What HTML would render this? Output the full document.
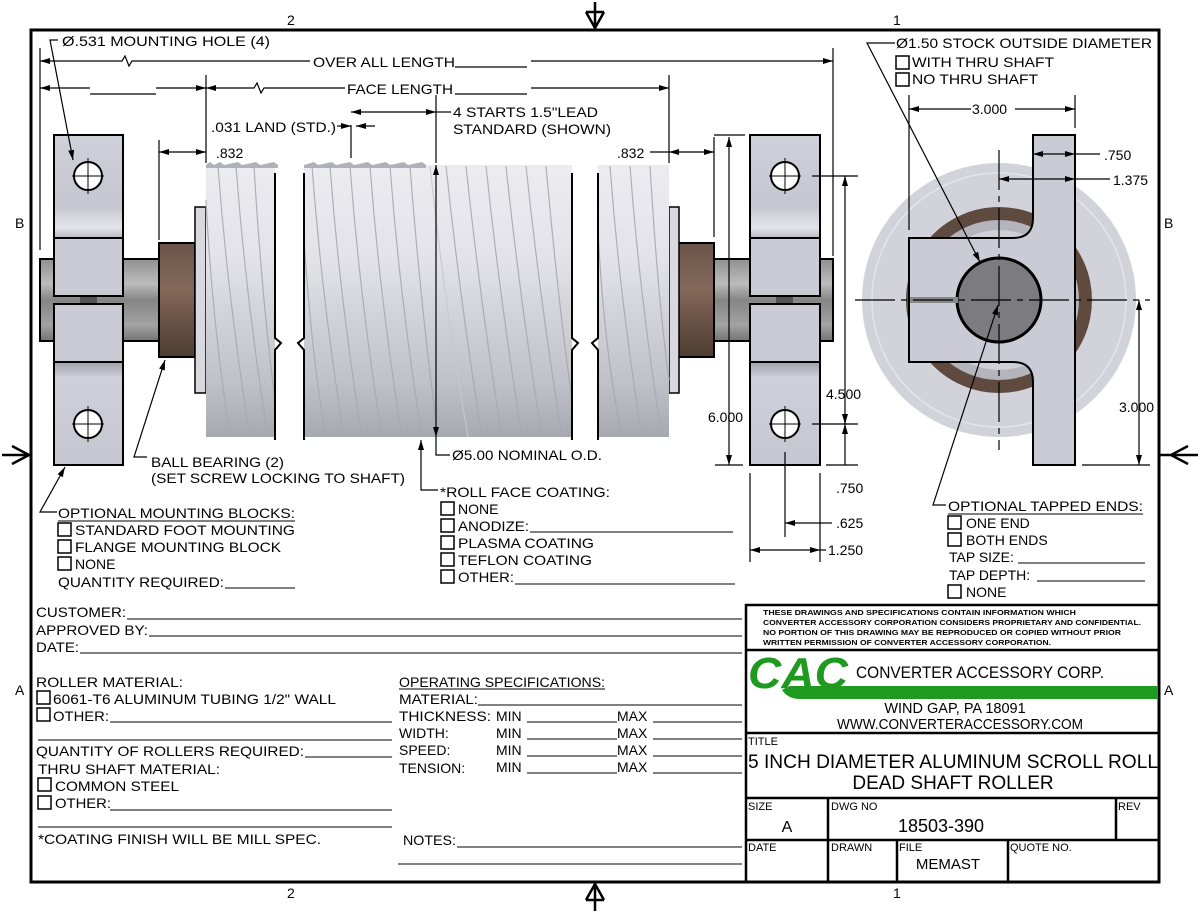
<!DOCTYPE html>
<html><head><meta charset="utf-8"><style>
html,body{margin:0;padding:0;background:#fff}
svg{display:block}
text{font-family:"Liberation Sans",sans-serif;fill:#000}
</style></head><body>
<svg width="1200" height="913" viewBox="0 0 1200 913" xmlns="http://www.w3.org/2000/svg">
<defs>
<linearGradient id="roll" x1="0" y1="0" x2="0" y2="1">
<stop offset="0" stop-color="#ececf0"/><stop offset="0.35" stop-color="#e2e2e8"/><stop offset="0.5" stop-color="#d6d6dd"/><stop offset="0.8" stop-color="#c0c0c8"/><stop offset="1" stop-color="#a8a8b0"/></linearGradient>
<linearGradient id="shaft" x1="0" y1="0" x2="0" y2="1">
<stop offset="0" stop-color="#909090"/><stop offset="0.3" stop-color="#bcbcbc"/><stop offset="0.5" stop-color="#858585"/><stop offset="0.8" stop-color="#a2a2a2"/><stop offset="1" stop-color="#747474"/></linearGradient>
<linearGradient id="brg" x1="0" y1="0" x2="0" y2="1">
<stop offset="0" stop-color="#6a5448"/><stop offset="0.4" stop-color="#84685a"/><stop offset="1" stop-color="#4e3c32"/></linearGradient>
<linearGradient id="blk" x1="0" y1="0" x2="0" y2="1">
<stop offset="0" stop-color="#d0d0da"/><stop offset="0.7" stop-color="#c6c6d0"/><stop offset="0.9" stop-color="#e4e4ea"/><stop offset="1" stop-color="#b8b8c2"/></linearGradient>
<linearGradient id="blk2" x1="0" y1="0" x2="0" y2="1">
<stop offset="0" stop-color="#a0a0aa"/><stop offset="0.15" stop-color="#d0d0da"/><stop offset="1" stop-color="#c6c6d0"/></linearGradient>
<marker id="a" viewBox="0 0 10 6" refX="10" refY="3" markerWidth="10" markerHeight="6" orient="auto-start-reverse" markerUnits="userSpaceOnUse"><path d="M0,0L10,3L0,6z" fill="#000"/></marker>
</defs>

<rect x="31" y="30" width="1128" height="852" fill="none" stroke="#000" stroke-width="3"/>
<text x="287" y="25" font-size="14">2</text><text x="893" y="25" font-size="14">1</text>
<text x="287" y="898" font-size="14">2</text><text x="893" y="898" font-size="14">1</text>
<text x="15" y="228" font-size="14">B</text><text x="1164" y="228" font-size="14">B</text>
<text x="15" y="695" font-size="14">A</text><text x="1164" y="695" font-size="14">A</text>
<g stroke="#000" stroke-width="2.5" fill="none">
<path d="M595,2V30M586,12L595,28L604,12M586,12H604"/>
<path d="M595,911V882M586,900L595,884L604,900M586,900H604"/>
<path d="M2,455H31M12,446L29,455L12,464"/>
<path d="M1198,455H1160M1188,446L1171,455L1188,464"/>
</g>

<rect x="40" y="259" width="120" height="82" fill="url(#shaft)" stroke="#000" stroke-width="2"/>
<rect x="713" y="259" width="120" height="82" fill="url(#shaft)" stroke="#000" stroke-width="2"/>
<rect x="159" y="243" width="36" height="114" fill="url(#brg)" stroke="#000" stroke-width="2"/>
<rect x="678" y="243" width="36" height="114" fill="url(#brg)" stroke="#000" stroke-width="2"/>
<rect x="195" y="207" width="11" height="186" fill="#d8d8de" stroke="#000" stroke-width="1.5"/>
<rect x="669" y="207" width="10" height="186" fill="#d8d8de" stroke="#000" stroke-width="1.5"/>
<path d="M206,165H275V437H206Z" fill="url(#roll)"/>
<path d="M304,165H572V437H304Z" fill="url(#roll)"/>
<path d="M598,165H669V437H598Z" fill="url(#roll)"/>
<g stroke="#a8a8b2" stroke-width="1.2" fill="none" opacity="0.9">
<path d="M218,166Q228,300 250,437M236,166Q246,300 268,437M254,166Q262,300 275,400M206,200Q212,320 230,437"/>
<path d="M312,166Q322,300 344,437M330,166Q340,300 362,437M350,166Q360,300 382,437M370,166Q380,300 402,437M390,166Q400,300 422,437M410,166Q420,300 438,437M304,240Q312,360 326,437"/>
<path d="M430,166Q444,300 468,437" stroke="#c8c8d0"/>
<path d="M446,166Q460,300 482,437M466,166Q480,300 502,437M486,166Q500,300 522,437M506,166Q520,300 542,437M526,166Q540,300 562,437M546,166Q558,300 572,400"/>
<path d="M610,166Q620,300 642,437M630,166Q640,300 662,437M650,166Q658,300 669,380M598,230Q604,350 622,437"/>
</g>
<g fill="#b0b0ba"><path d="M206,165l4,-3 4,3 6,-3 4,3 14,-3 4,3 14,-3 4,3 14,-3 4,3V168H206Z"/>
<path d="M304,165l10,-3 4,3 14,-3 4,3 14,-3 4,3 14,-3 4,3 14,-3 4,3 14,-3 4,3 14,-3 4,3V168H304Z"/></g>
<g stroke="#000" stroke-width="2" fill="none">
<path d="M275,173V338l6,5 -6,7V440"/>
<path d="M304,173V338l-6,5 6,7V440"/>
<path d="M572,173V338l6,5 -6,7V440"/>
<path d="M598,173V338l-6,5 6,7V440"/>
</g>
<g stroke="#000" stroke-width="2">
<rect x="54" y="135" width="69" height="103" fill="url(#blk)"/>
<rect x="54" y="238" width="69" height="58" fill="#cbcbd5"/>
<rect x="54" y="304" width="69" height="58" fill="#cbcbd5"/>
<rect x="54" y="362" width="69" height="103" fill="url(#blk2)"/>
<rect x="750" y="135" width="70" height="103" fill="url(#blk)"/>
<rect x="750" y="238" width="70" height="58" fill="#cbcbd5"/>
<rect x="750" y="304" width="70" height="58" fill="#cbcbd5"/>
<rect x="750" y="362" width="70" height="103" fill="url(#blk2)"/>
</g>
<rect x="80" y="297" width="17" height="6" fill="#555"/><rect x="776" y="297" width="17" height="6" fill="#555"/>
<g stroke="#000" stroke-width="2" fill="#fff">
<circle cx="88" cy="176" r="14"/><circle cx="88" cy="424" r="14"/>
<circle cx="785" cy="176" r="14"/><circle cx="785" cy="424" r="14"/>
</g>
<g stroke="#000" stroke-width="1">
<path d="M88,158V194M72,176H104M88,406V442M72,424H104M785,158V194M769,176H801M785,406V442M769,424H801"/>
</g>

<g stroke="#000" stroke-width="1.2" fill="none">
<path d="M40,48V250M833,48V256M206,75V163M669,75V163M159,140V240M714,137V237M351,125V158M436,95V163"/>
<path d="M40,61H122l3,-5 4,10 3,-5H310" marker-start="url(#a)"/>
<path d="M531,61H833" marker-end="url(#a)"/>
<path d="M40,88H90" marker-start="url(#a)"/><path d="M156,88H206" marker-end="url(#a)"/>
<path d="M206,88H254l3,-5 4,10 3,-5H345" marker-start="url(#a)"/>
<path d="M531,88H669" marker-end="url(#a)"/>
<path d="M351,112H436" marker-start="url(#a)" marker-end="url(#a)"/><path d="M436,112H451"/>
<path d="M337,126H351" marker-end="url(#a)"/><path d="M375,126H356" marker-end="url(#a)"/>
<path d="M159,152H206" marker-start="url(#a)" marker-end="url(#a)"/>
<path d="M669,152H714" marker-start="url(#a)" marker-end="url(#a)"/><path d="M650,152H669"/>
<path d="M436,165V437" marker-start="url(#a)" marker-end="url(#a)"/><path d="M436,437V455H450"/>
<path d="M58,40H50L73,160" marker-end="url(#a)"/>
<path d="M147,457H134L165,360" marker-end="url(#a)"/>
<path d="M438,490H421V440" marker-end="url(#a)"/>
<path d="M57,512H40L65,467" marker-end="url(#a)"/>
<path d="M714,135H745M715,465H743M812,176H858M812,424H858M826,465H858"/>
<path d="M729,137V465" marker-start="url(#a)" marker-end="url(#a)"/>
<path d="M845,176V424" marker-start="url(#a)" marker-end="url(#a)"/>
<path d="M845,465V424" marker-end="url(#a)"/><path d="M845,424V415"/>
<path d="M750,473V562M820,473V562M785,452V537"/>
<path d="M820,523H785" marker-end="url(#a)"/><path d="M820,523H832"/>
<path d="M750,550H820" marker-start="url(#a)" marker-end="url(#a)"/><path d="M820,550H826"/>
</g>
<g font-size="14">
<text x="62" y="46" textLength="208" lengthAdjust="spacingAndGlyphs">Ø.531 MOUNTING HOLE (4)</text>
<text x="313" y="67" textLength="142" lengthAdjust="spacingAndGlyphs">OVER ALL LENGTH</text>
<path d="M455,67H527M455,94H527M90,94H156" stroke="#000" stroke-width="1.2"/>
<text x="347" y="94" textLength="106" lengthAdjust="spacingAndGlyphs">FACE LENGTH</text>
<text x="453" y="117" textLength="145" lengthAdjust="spacingAndGlyphs">4 STARTS 1.5"LEAD</text>
<text x="453" y="134" textLength="158" lengthAdjust="spacingAndGlyphs">STANDARD (SHOWN)</text>
<text x="211" y="132" textLength="125" lengthAdjust="spacingAndGlyphs">.031 LAND (STD.)</text>
<text x="216" y="158">.832</text>
<text x="617" y="158">.832</text>
<text x="452" y="460" textLength="150" lengthAdjust="spacingAndGlyphs">Ø5.00 NOMINAL O.D.</text>
<text x="151" y="467" textLength="133" lengthAdjust="spacingAndGlyphs">BALL BEARING (2)</text>
<text x="151" y="483" textLength="254" lengthAdjust="spacingAndGlyphs">(SET SCREW LOCKING TO SHAFT)</text>
<text x="708" y="422">6.000</text>
<text x="826" y="399">4.500</text>
<text x="836" y="493">.750</text>
<text x="836" y="528">.625</text>
<text x="828" y="555">1.250</text>
</g>

<circle cx="999" cy="300" r="137" fill="#d2d2da"/>
<circle cx="999" cy="300" r="127" fill="none" stroke="#e4e4ea" stroke-width="1.5"/>
<circle cx="999" cy="300" r="93" fill="#5e4a3e"/>
<circle cx="999" cy="300" r="80" fill="#b4b4bc"/>
<circle cx="999" cy="300" r="70" fill="#cfcfd7"/>
<path d="M1033,135H1075V465H1033V382Q1033,362 1013,362H909V238H1013Q1033,238 1033,218Z" fill="#cbcbd5" stroke="#000" stroke-width="2"/>
<circle cx="999" cy="300" r="42" fill="#7c7c80" stroke="#000" stroke-width="3"/>
<rect x="910" y="297" width="48" height="6" fill="#888"/>
<g stroke="#000" stroke-width="1.2" fill="none">
<path d="M855,300H1150M999,150V450" stroke-dasharray="40,6,6,6"/>
<path d="M909,95V230M1075,95V128"/>
<path d="M909,109H971" marker-start="url(#a)"/><path d="M1015,109H1075" marker-end="url(#a)"/>
<path d="M1033,154H1075" marker-start="url(#a)" marker-end="url(#a)"/><path d="M1075,154H1100"/>
<path d="M999,179H1075" marker-start="url(#a)" marker-end="url(#a)"/><path d="M1075,179H1110"/>
<path d="M1082,465H1150"/>
<path d="M1139,300V465" marker-start="url(#a)" marker-end="url(#a)"/>
<path d="M895,43H867L980,262" marker-end="url(#a)"/>
<path d="M946,505H933L998,305" marker-end="url(#a)"/>
</g>
<g font-size="14">
<text x="896" y="48" textLength="256" lengthAdjust="spacingAndGlyphs">Ø1.50 STOCK OUTSIDE DIAMETER</text>
<rect x="896" y="56" width="13" height="13" fill="none" stroke="#000" stroke-width="1.5"/>
<text x="912" y="67" textLength="142" lengthAdjust="spacingAndGlyphs">WITH THRU SHAFT</text>
<rect x="896" y="73" width="13" height="13" fill="none" stroke="#000" stroke-width="1.5"/>
<text x="912" y="84" textLength="126" lengthAdjust="spacingAndGlyphs">NO THRU SHAFT</text>
<text x="972" y="114">3.000</text>
<text x="1104" y="160">.750</text>
<text x="1113" y="185">1.375</text>
<text x="1119" y="412">3.000</text>
<text x="948" y="511" textLength="195" lengthAdjust="spacingAndGlyphs">OPTIONAL TAPPED ENDS:</text>
<path d="M948,514H1143" stroke="#000" stroke-width="1"/>
<rect x="948" y="516" width="13" height="13" fill="none" stroke="#000" stroke-width="1.5"/>
<text x="966" y="528">ONE END</text>
<rect x="948" y="533" width="13" height="13" fill="none" stroke="#000" stroke-width="1.5"/>
<text x="966" y="545">BOTH ENDS</text>
<text x="949" y="562">TAP SIZE:</text><path d="M1018,563H1145" stroke="#000"/>
<text x="949" y="580">TAP DEPTH:</text><path d="M1037,581H1145" stroke="#000"/>
<rect x="948" y="585" width="13" height="13" fill="none" stroke="#000" stroke-width="1.5"/>
<text x="966" y="597">NONE</text>
</g>

<g font-size="14">
<text x="58" y="518" textLength="237" lengthAdjust="spacingAndGlyphs">OPTIONAL MOUNTING BLOCKS:</text>
<path d="M58,521H295" stroke="#000"/>
<rect x="58" y="523" width="13" height="13" fill="none" stroke="#000" stroke-width="1.5"/>
<text x="75" y="535" textLength="220" lengthAdjust="spacingAndGlyphs">STANDARD FOOT MOUNTING</text>
<rect x="58" y="540" width="13" height="13" fill="none" stroke="#000" stroke-width="1.5"/>
<text x="75" y="552" textLength="206" lengthAdjust="spacingAndGlyphs">FLANGE MOUNTING BLOCK</text>
<rect x="58" y="557" width="13" height="13" fill="none" stroke="#000" stroke-width="1.5"/>
<text x="75" y="569">NONE</text>
<text x="58" y="587" textLength="166" lengthAdjust="spacingAndGlyphs">QUANTITY REQUIRED:</text>
<path d="M225,588H295" stroke="#000"/>

<text x="440" y="497" textLength="170" lengthAdjust="spacingAndGlyphs">*ROLL FACE COATING:</text>
<rect x="441" y="502" width="13" height="13" fill="none" stroke="#000" stroke-width="1.5"/>
<text x="458" y="514">NONE</text>
<rect x="441" y="519" width="13" height="13" fill="none" stroke="#000" stroke-width="1.5"/>
<text x="458" y="531" textLength="71" lengthAdjust="spacingAndGlyphs">ANODIZE:</text><path d="M530,532H733" stroke="#000"/>
<rect x="441" y="536" width="13" height="13" fill="none" stroke="#000" stroke-width="1.5"/>
<text x="458" y="548" textLength="136" lengthAdjust="spacingAndGlyphs">PLASMA COATING</text>
<rect x="441" y="553" width="13" height="13" fill="none" stroke="#000" stroke-width="1.5"/>
<text x="458" y="565" textLength="134" lengthAdjust="spacingAndGlyphs">TEFLON COATING</text>
<rect x="441" y="570" width="13" height="13" fill="none" stroke="#000" stroke-width="1.5"/>
<text x="458" y="582" textLength="56" lengthAdjust="spacingAndGlyphs">OTHER:</text><path d="M515,584H735" stroke="#000"/>

<text x="36" y="617" textLength="90" lengthAdjust="spacingAndGlyphs">CUSTOMER:</text><path d="M127,619H742" stroke="#000"/>
<text x="36" y="635" textLength="112" lengthAdjust="spacingAndGlyphs">APPROVED BY:</text><path d="M149,636H742" stroke="#000"/>
<text x="36" y="652" textLength="43" lengthAdjust="spacingAndGlyphs">DATE:</text><path d="M80,653H742" stroke="#000"/>

<text x="36" y="687" textLength="147" lengthAdjust="spacingAndGlyphs">ROLLER MATERIAL:</text>
<rect x="37" y="691" width="13" height="13" fill="none" stroke="#000" stroke-width="1.5"/>
<text x="53" y="704" textLength="283" lengthAdjust="spacingAndGlyphs">6061-T6 ALUMINUM TUBING 1/2" WALL</text>
<rect x="37" y="708" width="13" height="13" fill="none" stroke="#000" stroke-width="1.5"/>
<text x="53" y="721" textLength="56" lengthAdjust="spacingAndGlyphs">OTHER:</text><path d="M110,722H392" stroke="#000"/>
<path d="M38,740H392" stroke="#000"/>
<text x="36" y="756" textLength="268" lengthAdjust="spacingAndGlyphs">QUANTITY OF ROLLERS REQUIRED:</text><path d="M305,757H392" stroke="#000"/>
<text x="38" y="774" textLength="182" lengthAdjust="spacingAndGlyphs">THRU SHAFT MATERIAL:</text>
<rect x="38" y="778" width="13" height="13" fill="none" stroke="#000" stroke-width="1.5"/>
<text x="55" y="791" textLength="124" lengthAdjust="spacingAndGlyphs">COMMON STEEL</text>
<rect x="38" y="796" width="13" height="13" fill="none" stroke="#000" stroke-width="1.5"/>
<text x="55" y="808" textLength="56" lengthAdjust="spacingAndGlyphs">OTHER:</text><path d="M110,810H392" stroke="#000"/>
<path d="M38,827H392" stroke="#000"/>
<text x="38" y="844" textLength="283" lengthAdjust="spacingAndGlyphs">*COATING FINISH WILL BE MILL SPEC.</text>

<text x="399" y="687" textLength="206" lengthAdjust="spacingAndGlyphs">OPERATING SPECIFICATIONS:</text><path d="M399,689H605" stroke="#000"/>
<text x="399" y="704" textLength="79" lengthAdjust="spacingAndGlyphs">MATERIAL:</text><path d="M478,705H742" stroke="#000"/>
<text x="399" y="721" textLength="92" lengthAdjust="spacingAndGlyphs">THICKNESS:</text>
<text x="399" y="738">WIDTH:</text><text x="399" y="755">SPEED:</text><text x="399" y="773">TENSION:</text>
<text x="496" y="721">MIN</text><text x="496" y="738">MIN</text><text x="496" y="755">MIN</text><text x="496" y="772">MIN</text>
<text x="617" y="721">MAX</text><text x="617" y="738">MAX</text><text x="617" y="755">MAX</text><text x="617" y="772">MAX</text>
<path d="M527,722H617M653,722H742M527,739H617M653,739H742M527,756H617M653,756H742M527,773H617M653,773H742" stroke="#000"/>
<text x="403" y="845" textLength="53" lengthAdjust="spacingAndGlyphs">NOTES:</text><path d="M457,847H742M398,864H742" stroke="#000"/>
</g>

<g stroke="#000" stroke-width="2.5" fill="none">
<rect x="746" y="605" width="413" height="277"/>
<path d="M746,650H1159M746,733H1159M746,798H1159M746,840H1159M828,798V882M1116,798V840M897,840V882M1008,840V882"/>
</g>
<g font-size="7.6" font-weight="bold">
<text x="763" y="615" textLength="313" lengthAdjust="spacingAndGlyphs">THESE DRAWINGS AND SPECIFICATIONS CONTAIN INFORMATION WHICH</text>
<text x="763" y="625" textLength="378" lengthAdjust="spacingAndGlyphs">CONVERTER ACCESSORY CORPORATION CONSIDERS PROPRIETARY AND CONFIDENTIAL.</text>
<text x="763" y="635" textLength="358" lengthAdjust="spacingAndGlyphs">NO PORTION OF THIS DRAWING MAY BE REPRODUCED OR COPIED WITHOUT PRIOR</text>
<text x="763" y="645" textLength="288" lengthAdjust="spacingAndGlyphs">WRITTEN PERMISSION OF CONVERTER ACCESSORY CORPORATION.</text>
</g>
<text x="748" y="688" font-size="44" font-weight="bold" font-style="italic" style="fill:#1e9a1e" textLength="100" lengthAdjust="spacingAndGlyphs">CAC</text>
<path d="M790,686H1158V699H800Q788,699 782,690Z" fill="#1e9a1e"/>
<text x="856" y="678" font-size="17" textLength="248" lengthAdjust="spacingAndGlyphs">CONVERTER ACCESSORY CORP.</text>
<text x="955" y="713" font-size="14.5" text-anchor="middle">WIND GAP, PA 18091</text>
<text x="960" y="729" font-size="14.5" text-anchor="middle" textLength="246" lengthAdjust="spacingAndGlyphs">WWW.CONVERTERACCESSORY.COM</text>
<text x="748" y="745" font-size="11">TITLE</text>
<text x="748" y="768" font-size="19" textLength="410" lengthAdjust="spacingAndGlyphs">5 INCH DIAMETER ALUMINUM SCROLL ROLL</text>
<text x="953" y="789" font-size="19" text-anchor="middle">DEAD SHAFT ROLLER</text>
<text x="748" y="810" font-size="11">SIZE</text>
<text x="787" y="832" font-size="16" text-anchor="middle">A</text>
<text x="831" y="810" font-size="11">DWG NO</text>
<text x="941" y="832" font-size="18" text-anchor="middle">18503-390</text>
<text x="1118" y="810" font-size="11">REV</text>
<text x="748" y="851" font-size="11">DATE</text>
<text x="831" y="851" font-size="11">DRAWN</text>
<text x="899" y="851" font-size="11">FILE</text>
<text x="948" y="869" font-size="15" text-anchor="middle">MEMAST</text>
<text x="1010" y="851" font-size="11">QUOTE NO.</text>
</svg>
</body></html>
